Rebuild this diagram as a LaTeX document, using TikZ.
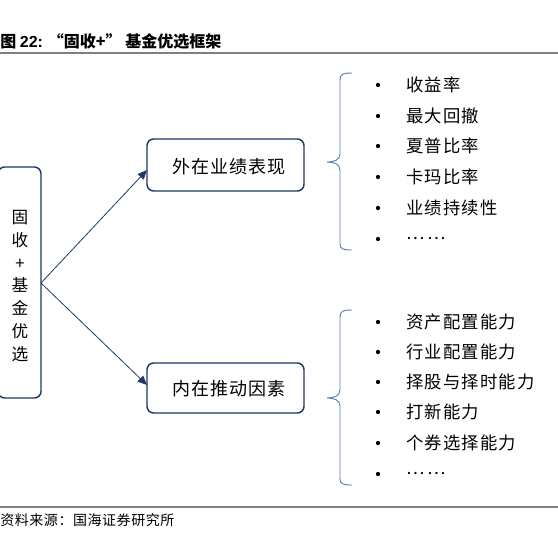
\documentclass[tikz,border=0pt]{standalone}
\usepackage{fontspec}
\newfontfamily\cjk{Noto Sans CJK SC}
\newfontfamily\cjkitem[LetterSpace=7]{Noto Sans CJK SC}
\newfontfamily\cjkbox[LetterSpace=6]{Noto Sans CJK SC}
\newfontfamily\cjksrc[LetterSpace=4]{Noto Sans CJK SC}
\newfontfamily\arialb{Liberation Sans}
\usetikzlibrary{arrows.meta}
\definecolor{navy}{HTML}{1F3864}
\definecolor{bracec}{HTML}{5B7BB5}
\definecolor{rulec}{HTML}{7F7F7F}
\tikzset{
  box/.style={draw=navy, line width=1.1pt, rounded corners=5pt, inner sep=0pt},
  boxtext/.style={font=\cjkbox\fontsize{13.5}{14}\selectfont, text=black},
  item/.style={font=\cjkitem\fontsize{13}{14}\selectfont, anchor=west, inner sep=0pt},
  dot/.style={circle, fill=black, inner sep=0pt, minimum size=3.2pt},
  conn/.style={draw=navy, line width=0.6pt, -{Triangle[length=7pt,width=6pt]}},
  brace/.style={draw=bracec, line width=0.7pt},
  sep/.style={draw=rulec, line width=1.1pt}
}
\begin{document}
\begin{tikzpicture}[x=0.75pt,y=-0.75pt]
\useasboundingbox (0,0) rectangle (558,537);
% title
\node[anchor=west, inner sep=0pt, font=\cjk\bfseries\fontsize{12}{13}\selectfont] (title) at (0,41) {图 {\arialb\bfseries 22:} “固收+” 基金优选框架};
\coordinate (t1) at (0,53);
\coordinate (t2) at (558,53);
\draw[sep] (t1) -- (t2);
% left box
\node[box, minimum width=43*0.75pt, minimum height=231*0.75pt] (left) at (19.5,282.5) {};
\node[font=\cjk\fontsize{12.5}{13}\selectfont, align=center, inner sep=0pt] (lefttext) at (20,286)
  {固\\[4.2pt]收\\[4.2pt]+\\[4.2pt]基\\[4.2pt]金\\[4.2pt]优\\[4.2pt]选};
% right boxes
\node[box, minimum width=157*0.75pt, minimum height=52*0.75pt] (outer) at (225.5,165) {};
\node[boxtext] (outert) at (229,167) {外在业绩表现};
\node[box, minimum width=157*0.75pt, minimum height=50*0.75pt] (inner) at (225.5,388) {};
\node[boxtext] (innert) at (229,389) {内在推动因素};
% arrows
\coordinate (src) at (41,283);
\coordinate (tgt1) at (147,170);
\coordinate (tgt2) at (147,385);
\draw[conn] (src) -- (tgt1);
\draw[conn] (src) -- (tgt2);
% braces
\coordinate (b1top) at (352,73);
\coordinate (b1tip) at (327,162);
\coordinate (b1bot) at (352,250);
\draw[brace] (b1top) .. controls (343,73) and (340,74) .. (340,80) -- (340,154)
  .. controls (340,160) and (334,162) .. (b1tip)
  .. controls (334,162) and (340,164) .. (340,170) -- (340,244)
  .. controls (340,249) and (343,250) .. (b1bot);
\coordinate (b2top) at (352,310);
\coordinate (b2tip) at (327,398);
\coordinate (b2bot) at (352,485);
\draw[brace] (b2top) .. controls (343,310) and (340,311) .. (340,317) -- (340,390)
  .. controls (340,396) and (334,398) .. (b2tip)
  .. controls (334,398) and (340,400) .. (340,406) -- (340,479)
  .. controls (340,484) and (343,485) .. (b2bot);
% items top
\foreach \i/\y/\t in {a/85/收益率, b/116/最大回撤, c/146/夏普比率, d/177/卡玛比率, e/208/业绩持续性, f/239/…\hspace{2pt}…}{
  \node[dot] (dot\i) at (378,\y) {};
  \node[item] (it\i) at (406,\y) {\t};
}
% items bottom
\foreach \i/\y/\t in {g/322/资产配置能力, h/352/行业配置能力, k/382/择股与择时能力, l/412/打新能力, m/443/个券选择能力, n/474/…\hspace{2pt}…}{
  \node[dot] (dot\i) at (378,\y) {};
  \node[item] (it\i) at (406,\y) {\t};
}
% bottom rule & source
\coordinate (s1) at (0,507);
\coordinate (s2) at (558,507);
\draw[sep] (s1) -- (s2);
\node[anchor=west, inner sep=0pt, font=\cjksrc\fontsize{10.5}{11}\selectfont] (source) at (0,520) {资料来源：国海证券研究所};
\end{tikzpicture}
\end{document}
